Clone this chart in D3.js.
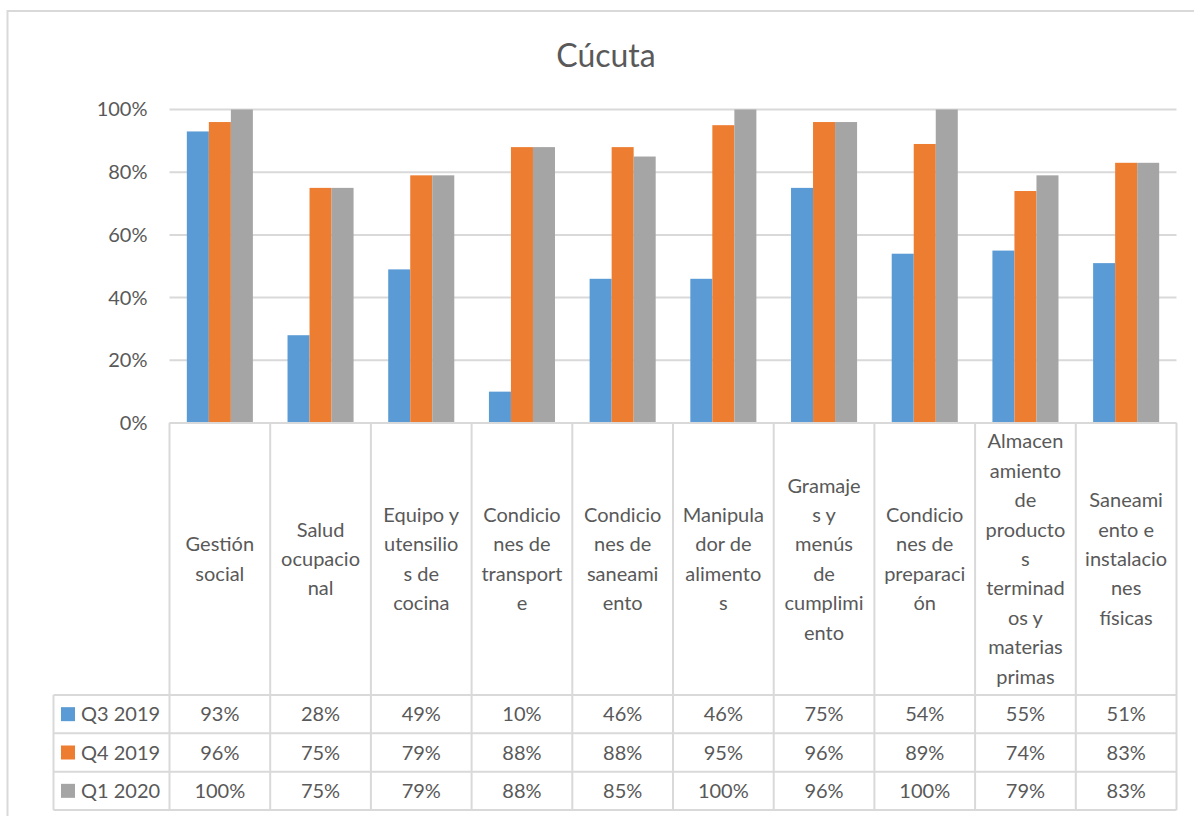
<!DOCTYPE html>
<html>
<head>
<meta charset="utf-8">
<script src="https://cdn.jsdelivr.net/npm/d3@7"></script>
<style>
  body { margin: 0; background: #fff; }
  svg { display: block; font-family: Lato, "Open Sans", sans-serif; }
</style>
</head>
<body>
<svg id="chart" width="1194" height="816"></svg>
<script>
// data
const title = "Cúcuta";
const categories = [
  "Gestión social", "Salud ocupacional", "Equipo y utensilios de cocina",
  "Condiciones de transporte", "Condiciones de saneamiento", "Manipulador de alimentos",
  "Gramajes y menús de cumplimiento", "Condiciones de preparación",
  "Almacenamiento de productos terminados y materias primas", "Saneamiento e instalaciones físicas"
];
// wrapped label lines as shown in the table header
const categoryLines = [
  ["Gestión", "social"],
  ["Salud", "ocupacio", "nal"],
  ["Equipo y", "utensilio", "s de", "cocina"],
  ["Condicio", "nes de", "transport", "e"],
  ["Condicio", "nes de", "saneami", "ento"],
  ["Manipula", "dor de", "alimento", "s"],
  ["Gramaje", "s y", "menús", "de", "cumplimi", "ento"],
  ["Condicio", "nes de", "preparaci", "ón"],
  ["Almacen", "amiento", "de", "producto", "s", "terminad", "os y", "materias", "primas"],
  ["Saneami", "ento e", "instalacio", "nes", "físicas"]
];
const seriesNames = ["Q3 2019", "Q4 2019", "Q1 2020"];
const q3_2019 = [0.93, 0.28, 0.49, 0.10, 0.46, 0.46, 0.75, 0.54, 0.55, 0.51];
const q4_2019 = [0.96, 0.75, 0.79, 0.88, 0.88, 0.95, 0.96, 0.89, 0.74, 0.83];
const q1_2020 = [1.00, 0.75, 0.79, 0.88, 0.85, 1.00, 0.96, 1.00, 0.79, 0.83];
const yTicks = [0, 0.2, 0.4, 0.6, 0.8, 1.0];

const seriesValues = [q3_2019, q4_2019, q1_2020];
const colors = ["#5B9BD5", "#ED7D31", "#A5A5A5"];
const textColor = "#595959";
const lineColor = "#D9D9D9";

const svg = d3.select("#chart");

// outer chart border
svg.append("rect")
  .attr("x", 7.5).attr("y", 11)
  .attr("width", 1200).attr("height", 820)
  .attr("fill", "none").attr("stroke", lineColor).attr("stroke-width", 2);

svg.append("text")
  .attr("x", 606).attr("y", 67)
  .attr("text-anchor", "middle")
  .attr("fill", textColor)
  .style("font-size", "32px")
  .text(title);

const left = 169.5, right = 1176.5;
const y = d3.scaleLinear().domain([0, 1]).range([423, 109.5]);
const x = d3.scaleBand().domain(categories).range([left, right]);
const bw = x.bandwidth();
const gapOff = bw * 0.172;
const xs = d3.scaleBand().domain(seriesNames).range([gapOff, bw - gapOff]);

// gridlines
svg.append("g").selectAll("line")
  .data(yTicks)
  .join("line")
  .attr("x1", left).attr("x2", right)
  .attr("y1", d => y(d)).attr("y2", d => y(d))
  .attr("stroke", lineColor).attr("stroke-width", 2);

// y axis labels
const yAxis = svg.append("g")
  .attr("transform", `translate(${left - 22},0)`)
  .call(d3.axisLeft(y).tickValues(yTicks).tickFormat(d3.format(".0%")).tickSize(0).tickPadding(0));
yAxis.select(".domain").remove();
yAxis.selectAll("text")
  .attr("fill", textColor)
  .style("font-size", "20px")
  .style("font-family", "Lato, 'Open Sans', sans-serif");

// bars
seriesNames.forEach((s, si) => {
  svg.append("g").selectAll("rect")
    .data(seriesValues[si])
    .join("rect")
    .attr("x", (d, i) => x(categories[i]) + xs(s))
    .attr("y", d => y(d))
    .attr("width", xs.bandwidth())
    .attr("height", d => y(0) - y(d))
    .attr("fill", colors[si]);
});

// data table
const headerTop = 423, headerBottom = 695;
const rowY = d3.scaleBand().domain(seriesNames).range([headerBottom, 810]);
const legendLeft = 53.5;
const table = svg.append("g").attr("stroke", lineColor).attr("stroke-width", 2);

// vertical column lines
table.selectAll(".vcol")
  .data(categories.concat(["end"]))
  .join("line")
  .attr("x1", (d, i) => i < categories.length ? x(d) : right)
  .attr("x2", (d, i) => i < categories.length ? x(d) : right)
  .attr("y1", headerTop).attr("y2", 810);
table.append("line")
  .attr("x1", legendLeft).attr("x2", legendLeft)
  .attr("y1", headerBottom).attr("y2", 810);
// horizontal row lines
table.selectAll(".hrow")
  .data([headerBottom, rowY(seriesNames[1]), rowY(seriesNames[2]), 810])
  .join("line")
  .attr("x1", legendLeft).attr("x2", right)
  .attr("y1", d => d).attr("y2", d => d);
table.append("line")
  .attr("x1", left).attr("x2", right)
  .attr("y1", headerTop).attr("y2", headerTop);

// header labels
const lineH = 29.4;
const headerMid = (headerTop + headerBottom) / 2;
categories.forEach((c, i) => {
  const lines = categoryLines[i];
  const t = svg.append("text")
    .attr("text-anchor", "middle")
    .attr("fill", textColor)
    .style("font-size", "20px");
  lines.forEach((ln, li) => {
    t.append("tspan")
      .attr("x", x(c) + bw / 2)
      .attr("y", headerMid + (li - (lines.length - 1) / 2) * lineH)
      .attr("dy", "0.35em")
      .text(ln);
  });
});

// legend rows and values
const fmt = d3.format(".0%");
seriesNames.forEach((s, si) => {
  const cy = rowY(s) + rowY.bandwidth() / 2;
  svg.append("rect")
    .attr("x", 61).attr("y", cy - 7)
    .attr("width", 14).attr("height", 14)
    .attr("fill", colors[si]);
  svg.append("text")
    .attr("x", 81).attr("y", cy).attr("dy", "0.35em")
    .attr("fill", textColor)
    .style("font-size", "20px")
    .text(s);
  svg.append("g").selectAll("text")
    .data(seriesValues[si])
    .join("text")
    .attr("x", (d, i) => x(categories[i]) + bw / 2)
    .attr("y", cy).attr("dy", "0.35em")
    .attr("text-anchor", "middle")
    .attr("fill", textColor)
    .style("font-size", "20px")
    .text(d => fmt(d));
});
</script>
</body>
</html>
